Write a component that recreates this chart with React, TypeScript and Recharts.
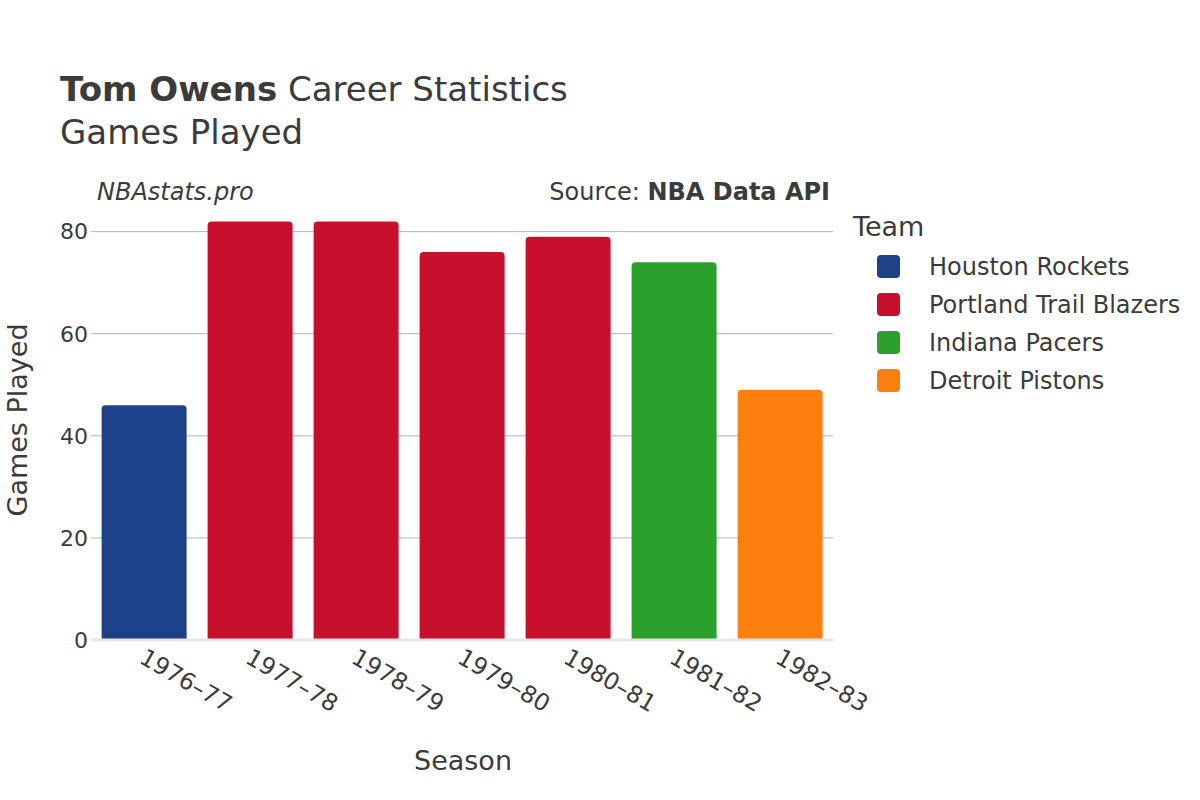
import React from 'react';
import { BarChart, Bar, XAxis, YAxis, CartesianGrid, Cell } from 'recharts';

const seasons = ['1976–77', '1977–78', '1978–79', '1979–80', '1980–81', '1981–82', '1982–83'];
const gamesPlayed = [46, 82, 82, 76, 79, 74, 49];
const seasonTeams = [
  'Houston Rockets',
  'Portland Trail Blazers',
  'Portland Trail Blazers',
  'Portland Trail Blazers',
  'Portland Trail Blazers',
  'Indiana Pacers',
  'Detroit Pistons',
];
const teams = ['Houston Rockets', 'Portland Trail Blazers', 'Indiana Pacers', 'Detroit Pistons'];
const teamColors = ['#1d428a', '#c8102e', '#2ca02c', '#ff7f0e'];
const yTicks = [0, 20, 40, 60, 80];

const FONT = '"DejaVu Sans", sans-serif';
const TEXT = '#3b3b3b';

const data = seasons.map((season, i) => ({
  season,
  games: gamesPlayed[i],
  team: seasonTeams[i],
}));

const colorOf = (team: string) => teamColors[teams.indexOf(team)];

function SeasonTick(props: any) {
  const { x, y, payload } = props;
  const tx = x - 6;
  const ty = y + 14;
  return (
    <text
      x={tx}
      y={ty}
      transform={`rotate(30, ${tx}, ${ty})`}
      textAnchor="start"
      fontSize={23.5}
      fontFamily={FONT}
      fill={TEXT}
    >
      {payload.value}
    </text>
  );
}

export default function App() {
  return (
    <div style={{ position: 'absolute', left: 0, top: 0, width: 1200, height: 800, background: '#fff' }}>
      <BarChart
        width={1200}
        height={800}
        data={data}
        margin={{ top: 201, right: 367, bottom: 0, left: 0 }}
        barCategoryGap="10%"
      >
        <CartesianGrid vertical={false} horizontalValues={yTicks} stroke="#b4b4b4" strokeWidth={1} />
        <XAxis
          dataKey="season"
          height={160}
          tickLine={false}
          axisLine={{ stroke: '#e6e6e6', strokeWidth: 3 }}
          tick={<SeasonTick />}
          interval={0}
        />
        <YAxis
          width={91}
          domain={[0, 86]}
          ticks={yTicks}
          tickLine={false}
          axisLine={false}
          tickSize={0}
          tickMargin={3}
          tick={{ fontSize: 22, fill: TEXT, fontFamily: FONT }}
        />
        <Bar dataKey="games" radius={[4, 4, 0, 0]} isAnimationActive={false}>
          {data.map((d, i) => (
            <Cell key={i} fill={colorOf(d.team)} />
          ))}
        </Bar>
      </BarChart>

      <svg
        width={1200}
        height={800}
        style={{ position: 'absolute', left: 0, top: 0, pointerEvents: 'none' }}
        fontFamily={FONT}
      >
        <text x={60} y={101} fontSize={34} fill={TEXT}>
          <tspan fontWeight="bold">Tom Owens</tspan> Career Statistics
        </text>
        <text x={60} y={144} fontSize={34} fill={TEXT}>
          Games Played
        </text>
        <text x={97} y={200} fontSize={24} fontStyle="italic" fill={TEXT}>
          NBAstats.pro
        </text>
        <text x={830} y={200} fontSize={24} textAnchor="end" fill={TEXT}>
          Source: <tspan fontWeight="bold">NBA Data API</tspan>
        </text>
        <text x={463} y={770} fontSize={27} textAnchor="middle" fill={TEXT}>
          Season
        </text>
        <text
          x={27}
          y={420}
          fontSize={27}
          textAnchor="middle"
          fill={TEXT}
          transform="rotate(-90, 27, 420)"
        >
          Games Played
        </text>
        <text x={853} y={236} fontSize={27} fill={TEXT}>
          Team
        </text>
        {teams.map((t, i) => (
          <g key={t}>
            <rect x={877} y={255 + i * 38} width={23} height={23} rx={4} fill={teamColors[i]} />
            <text x={929} y={275 + i * 38} fontSize={24} fill={TEXT}>
              {t}
            </text>
          </g>
        ))}
      </svg>
    </div>
  );
}
